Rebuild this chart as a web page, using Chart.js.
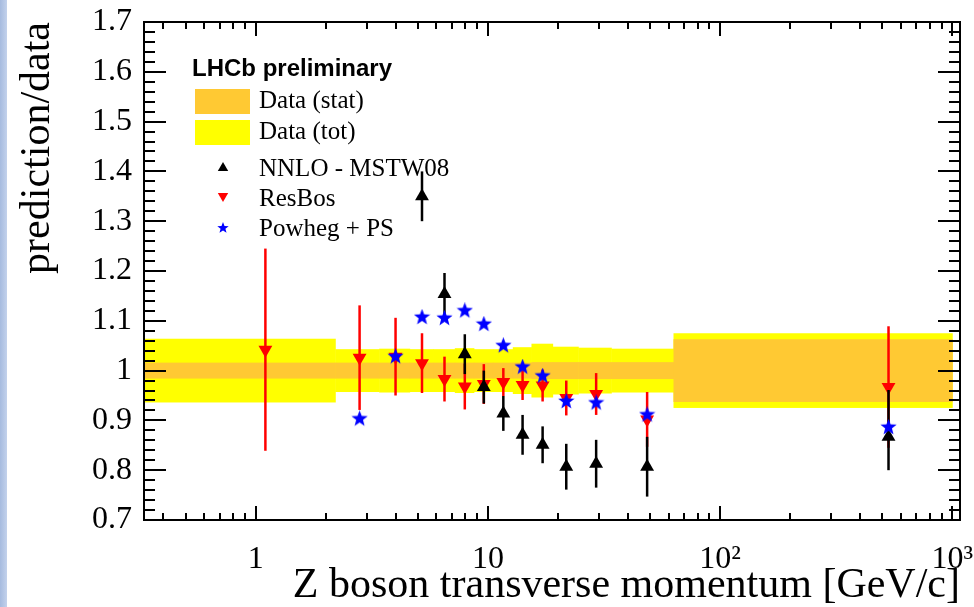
<!DOCTYPE html>
<html>
<head>
<meta charset="utf-8">
<script src="https://cdn.jsdelivr.net/npm/chart.js@4.4.1/dist/chart.umd.min.js"></script>
<style>
  html, body { margin: 0; padding: 0; background: #fff; }
  #wrap { position: relative; width: 974px; height: 607px; overflow: hidden; }
  #edge { position: absolute; left: 0; top: 0; width: 7px; height: 607px;
          background: linear-gradient(to right, #a6bbdf, #c3d2ec); }
  #c { position: absolute; left: 0; top: 0; }
</style>
</head>
<body>
<div id="wrap"><div id="edge"></div><canvas id="c" width="974" height="607"></canvas></div>
<script>
(function(){
// Z pT bins [GeV/c] and the point positions (bin centres)
const binEdges = [0, 2.2, 3.4, 4.6, 5.8, 7.2, 8.7, 10.5, 12.8, 15.4, 19, 24.5, 34, 63, 1000];
const ptCenters = [1.1, 2.8, 4.0, 5.2, 6.5, 7.95, 9.6, 11.65, 14.1, 17.2, 21.75, 29.25, 48.5, 531.5];

// relative data uncertainties around 1
const statErr = [0.016, 0.016, 0.016, 0.016, 0.016, 0.016, 0.016, 0.016, 0.016, 0.017, 0.017, 0.017, 0.017, 0.063];
const totErr  = [0.064, 0.043, 0.044, 0.043, 0.043, 0.045, 0.043, 0.043, 0.047, 0.054, 0.048, 0.046, 0.044, 0.075];

// prediction / data
const nnlo       = [null, null, null, 1.350, 1.154, 1.033, 0.967, 0.914, 0.871, 0.851, 0.807, 0.813, 0.807, 0.867];
const nnloErrUp  = [null, null, null, 0.050, 0.042, 0.040, 0.033, 0.035, 0.040, 0.037, 0.046, 0.048, 0.060, 0.094];
const nnloErrLow = [null, null, null, 0.050, 0.042, 0.040, 0.033, 0.035, 0.040, 0.037, 0.046, 0.048, 0.060, 0.067];
const resbos     = [1.042, 1.026, 1.028, 1.015, 0.983, 0.968, 0.973, 0.977, 0.971, 0.970, 0.945, 0.953, 0.902, 0.967];
const resbosErr  = [0.203, 0.105, 0.078, 0.060, 0.045, 0.046, 0.040, 0.028, 0.030, 0.032, 0.035, 0.042, 0.055, 0.122];
const powheg     = [null, 0.903, 1.028, 1.107, 1.105, 1.120, 1.093, 1.050, 1.007, 0.989, 0.938, 0.935, 0.911, 0.886];

const xTickValues = [1, 10, 100, 1000];
const xTickLabels = ['1', '10', '10\u00b2', '10\u00b3'];

const bandLabels = ['Data (stat)', 'Data (tot)'];
const ORANGE = '#ffc933', YELLOW = '#ffff00';
const SERIF = '"Liberation Serif", "Times New Roman", serif';

function starImage(size, color) {
  const c = document.createElement('canvas');
  c.width = c.height = size;
  const g = c.getContext('2d');
  const R = size / 2, r = R * 0.42;
  g.beginPath();
  for (let k = 0; k < 10; k++) {
    const rr = k % 2 ? r : R;
    const a = -Math.PI / 2 + k * Math.PI / 5;
    g.lineTo(R + rr * Math.cos(a), R + rr * Math.sin(a));
  }
  g.closePath();
  g.fillStyle = color;
  g.fill();
  return c;
}

function points(vals, up, low) {
  const out = [];
  vals.forEach((v, i) => {
    if (v == null) return;
    out.push({x: ptCenters[i], y: v, up: up ? up[i] : 0, low: low ? low[i] : 0});
  });
  return out;
}

const starBig = starImage(17, '#0000ff');
const starSmall = starImage(12, '#0000ff');

// first dataset ends up on top
const datasets = [{
  label: 'Powheg + PS',
  data: points(powheg),
  pointStyle: starBig,
  legendStyle: starSmall,
  color: '#0000ff',
  backgroundColor: '#0000ff',
  borderColor: '#0000ff',
  pointRadius: 8,
}, {
  label: 'NNLO - MSTW08',
  data: points(nnlo, nnloErrUp, nnloErrLow),
  pointStyle: 'triangle',
  rotation: 0,
  color: '#000000',
  backgroundColor: '#000000',
  borderColor: '#000000',
  borderWidth: 0,
  pointRadius: 8,
}, {
  label: 'ResBos',
  data: points(resbos, resbosErr, resbosErr),
  pointStyle: 'triangle',
  rotation: 180,
  color: '#ff0000',
  backgroundColor: '#ff0000',
  borderColor: '#ff0000',
  borderWidth: 0,
  pointRadius: 8,
}];

function line(ctx, x0, y0, x1, y1) {
  ctx.beginPath();
  ctx.moveTo(x0, y0);
  ctx.lineTo(x1, y1);
  ctx.stroke();
}

const rootStyle = {
  id: 'rootStyle',
  beforeDatasetsDraw(chart) {
    const {ctx, chartArea: a, scales: {x, y}} = chart;
    ctx.save();
    ctx.beginPath();
    ctx.rect(a.left, a.top, a.width, a.height);
    ctx.clip();
    const band = (errs, color) => {
      ctx.fillStyle = color;
      errs.forEach((e, i) => {
        const x0 = x.getPixelForValue(Math.max(binEdges[i], x.min));
        const x1 = x.getPixelForValue(binEdges[i + 1]);
        const y0 = y.getPixelForValue(1 + e);
        const y1 = y.getPixelForValue(1 - e);
        ctx.fillRect(x0, y0, x1 - x0 + 0.5, y1 - y0);
      });
    };
    band(totErr, YELLOW);
    band(statErr, ORANGE);
    ctx.restore();
  },
  beforeDatasetDraw(chart, args) {
    const ds = chart.data.datasets[args.index];
    const {ctx, scales: {y}} = chart;
    ctx.save();
    ctx.strokeStyle = ds.color;
    ctx.lineWidth = 2.5;
    args.meta.data.forEach((pt, i) => {
      const d = ds.data[i];
      if (!d.up && !d.low) return;
      line(ctx, pt.x, y.getPixelForValue(d.y + d.up), pt.x, y.getPixelForValue(d.y - d.low));
    });
    ctx.restore();
  },
  afterDraw(chart) {
    const {ctx, chartArea: a, scales: {x, y}} = chart;
    ctx.save();
    ctx.strokeStyle = '#000';
    ctx.lineWidth = 2;
    ctx.strokeRect(a.left, a.top, a.width, a.height);

    // y ticks, both sides, pointing inwards
    for (let k = 0; k <= 50; k++) {
      const py = Math.round(y.getPixelForValue(0.7 + k * 0.02));
      const len = k % 5 === 0 ? 22 : 11;
      line(ctx, a.left, py, a.left + len, py);
      line(ctx, a.right, py, a.right - len, py);
    }
    // x ticks, log decades with 2..9 minors
    for (let dec = -1; dec <= 3; dec++) {
      for (let m = 1; m <= 9; m++) {
        const v = m * Math.pow(10, dec);
        if (v < x.min || v > x.max) continue;
        const px = Math.round(x.getPixelForValue(v));
        const len = m === 1 ? 14 : 7;
        line(ctx, px, a.bottom, px, a.bottom - len);
        line(ctx, px, a.top, px, a.top + len);
      }
    }

    // legend
    ctx.fillStyle = '#000';
    ctx.textBaseline = 'alphabetic';
    ctx.textAlign = 'left';
    ctx.font = 'bold 24px "Liberation Sans", Arial, sans-serif';
    ctx.fillText('LHCb preliminary', 192, 76);

    ctx.fillStyle = ORANGE;
    ctx.fillRect(195, 89, 55, 25);
    ctx.fillStyle = YELLOW;
    ctx.fillRect(195, 120, 55, 25);

    ctx.font = '25px ' + SERIF;
    ctx.fillStyle = '#000';
    ctx.fillText(bandLabels[0], 259, 108);
    ctx.fillText(bandLabels[1], 259, 139);

    const order = [1, 2, 0];
    order.forEach((idx, row) => {
      const ds = chart.data.datasets[idx];
      const cy = 168 + row * 30;
      ctx.fillStyle = ds.color;
      ctx.strokeStyle = ds.color;
      ctx.lineWidth = 0;
      Chart.helpers.drawPoint(ctx, {
        pointStyle: ds.legendStyle || ds.pointStyle,
        rotation: ds.rotation || 0,
        radius: 6,
        borderWidth: 0
      }, 223, cy - (ds.rotation ? 2 : 0));
      ctx.fillStyle = '#000';
      ctx.fillText(ds.label, 259, cy + 8);
    });
    ctx.restore();
  }
};

new Chart(document.getElementById('c'), {
  type: 'scatter',
  data: {datasets},
  options: {
    responsive: false,
    animation: false,
    devicePixelRatio: 1,
    layout: {padding: {top: 22, right: 14, left: 0, bottom: 0}},
    plugins: {legend: {display: false}, tooltip: {enabled: false}},
    scales: {
      x: {
        type: 'logarithmic',
        bounds: 'data',
        min: 0.33,
        max: 1080,
        grid: {display: false, drawTicks: false},
        border: {display: false},
        afterBuildTicks: s => {
          s.ticks = xTickValues.map(v => ({value: v}));
          s.min = 0.33;
          s.max = 1080;
        },
        ticks: {
          autoSkip: false,
          maxRotation: 0,
          padding: 20,
          color: '#000',
          font: {family: SERIF, size: 32},
          callback: v => xTickLabels[xTickValues.indexOf(v)]
        },
        title: {
          display: true,
          text: 'Z boson transverse momentum [GeV/c]',
          align: 'end',
          color: '#000',
          font: {family: SERIF, size: 42, lineHeight: 1},
          padding: 0
        },
        afterFit: s => { s.height = 87; s.paddingLeft = 0; s.paddingRight = 0; }
      },
      y: {
        min: 0.7,
        max: 1.7,
        grid: {display: false, drawTicks: false},
        border: {display: false},
        ticks: {
          stepSize: 0.1,
          padding: 12,
          color: '#000',
          font: {family: SERIF, size: 32},
          callback: v => String(+v.toFixed(1))
        },
        title: {
          display: true,
          text: 'prediction/data',
          align: 'end',
          color: '#000',
          font: {family: SERIF, size: 42, lineHeight: 1},
          padding: {top: 17, bottom: 0}
        },
        afterFit: s => { s.width = 144; s.paddingTop = 0; s.paddingBottom = 0; }
      }
    }
  },
  plugins: [rootStyle]
});
})();
</script>
</body>
</html>
